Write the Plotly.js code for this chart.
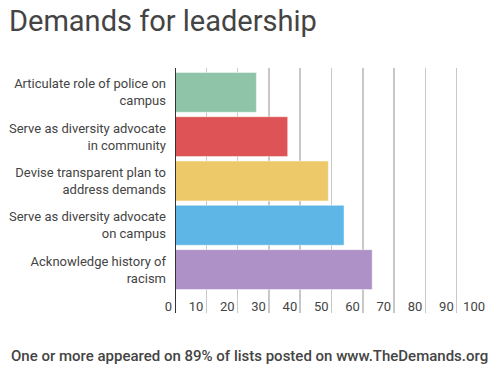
<!DOCTYPE html>
<html>
<head>
<meta charset="utf-8">
<script src="https://cdn.plot.ly/plotly-3.0.1.min.js"></script>
<style>html,body{margin:0;padding:0;background:#fff;}#chart{width:503px;height:378px;}</style>
</head>
<body>
<div id="chart"></div>
<script>
const categories = [
  "Articulate role of police on<br>campus",
  "Serve as diversity advocate<br>in community",
  "Devise transparent plan to<br>address demands",
  "Serve as diversity advocate<br>on campus",
  "Acknowledge history of<br>racism"
];
const values = [26, 36, 49, 54, 63];
const barColors = ["#8fc4a8", "#dd5356", "#eec96a", "#5db6e5", "#ad91c7"];
const xTicks = [0, 10, 20, 30, 40, 50, 60, 70, 80, 90, 100];
const titleText = "Demands for leadership";
const footerText = "One or more appeared on 89% of lists posted on www.TheDemands.org";

const W = 503, H = 378;
const L = 175, R = 15, T = 68, B = 65;

const trace = {
  type: "bar",
  orientation: "h",
  x: values,
  y: categories,
  marker: { color: barColors, line: { color: "rgba(255,255,255,0.45)", width: 1 } },
  hoverinfo: "none"
};

const layout = {
  width: W, height: H,
  margin: { l: L, r: R, t: T, b: B, pad: 0 },
  paper_bgcolor: "#fff", plot_bgcolor: "#fff",
  font: { family: "Roboto, sans-serif", color: "#444", size: 12 },
  showlegend: false,
  bargap: 0.1,
  title: {
    text: titleText,
    font: { family: "Roboto, sans-serif", size: 29, color: "#444" },
    xref: "container", x: 9 / W, xanchor: "left",
    yref: "container", y: 1 - 21 / H, yanchor: "middle",
    pad: { t: 0, b: 0, l: 0, r: 0 }
  },
  xaxis: {
    range: [0, 100],
    tickvals: xTicks,
    ticktext: xTicks.map(String),
    showgrid: true, gridcolor: "#c8c8c8", gridwidth: 1.5,
    zeroline: false, showline: false, ticks: "",
    ticklabelposition: "inside left",
    ticklabeloverflow: "allow",
    ticklabelstandoff: -7,
    ticklabelshift: -3,
    tickfont: { family: "Roboto, sans-serif", size: 13, color: "#444" },
    fixedrange: true
  },
  yaxis: {
    type: "category",
    categoryarray: categories,
    range: [4.98, -0.55],
    showgrid: false, zeroline: false, ticks: "",
    showline: false,
    ticklabelstandoff: 8,
    tickfont: { family: "Roboto, sans-serif", size: 13, color: "#444" },
    fixedrange: true
  },
  shapes: [{
    type: "line", xref: "x", yref: "paper",
    x0: 0, x1: 0, y0: 0, y1: 1,
    line: { color: "#333", width: 2 }, layer: "above"
  }],
  annotations: [{
    text: footerText,
    xref: "paper", yref: "paper",
    x: (9 - L) / (W - L - R), xanchor: "left",
    y: -(356 - (H - B)) / (H - T - B), yanchor: "middle",
    showarrow: false,
    font: { family: "Roboto, sans-serif", size: 15, color: "#444", weight: 500 }
  }]
};

Plotly.newPlot("chart", [trace], layout, { displayModeBar: false, staticPlot: true });
</script>
</body>
</html>
